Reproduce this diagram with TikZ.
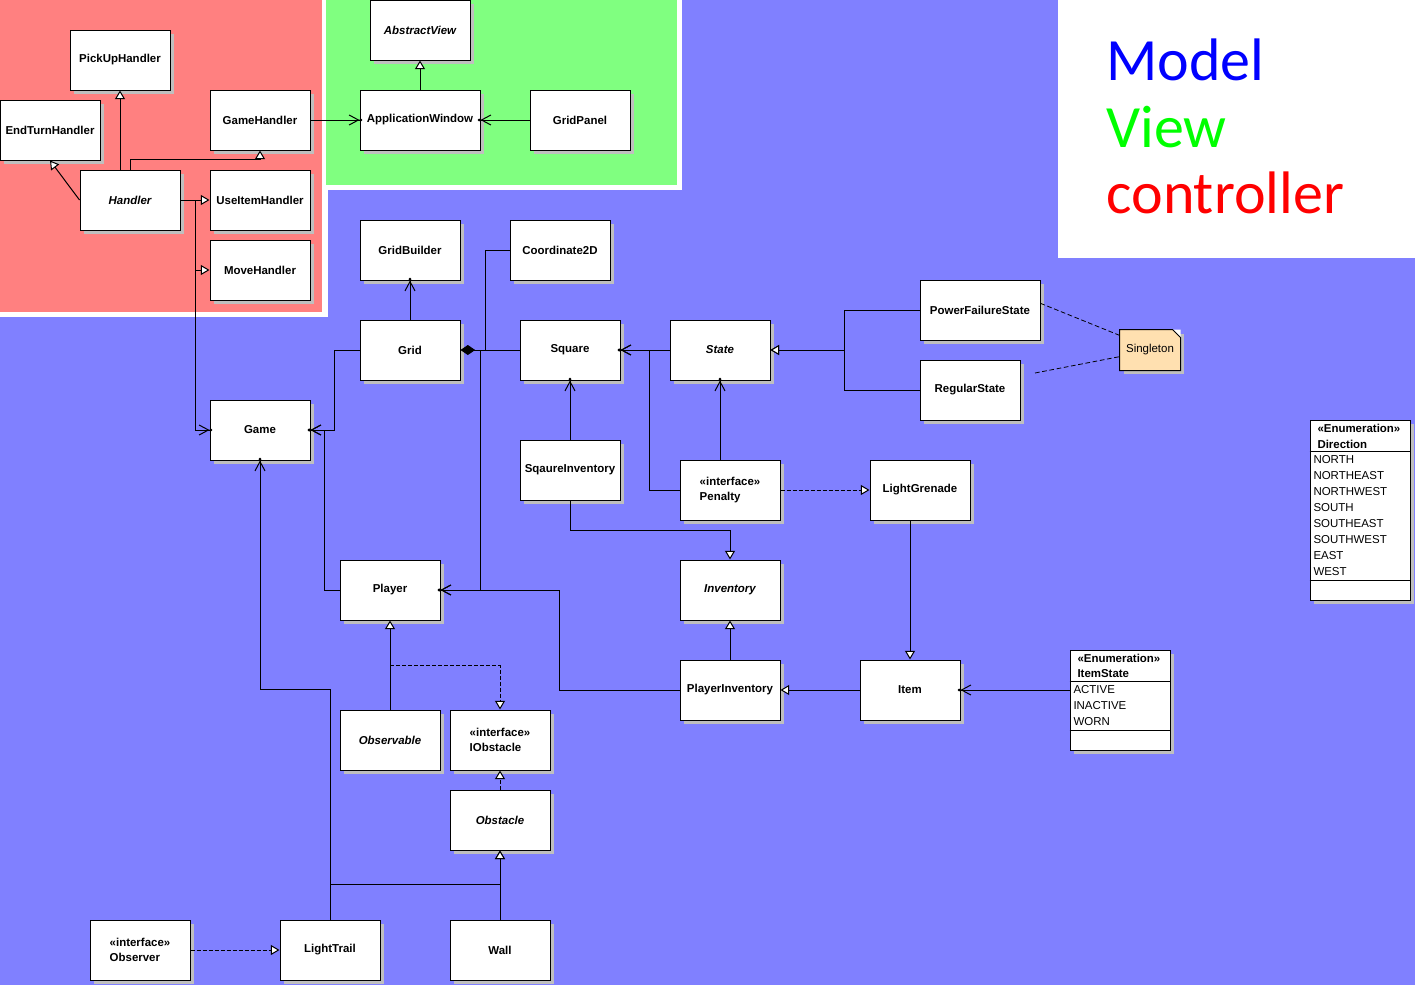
\documentclass[tikz,border=0pt]{standalone}
\usepackage{fontspec}
\setmainfont{Liberation Sans}
\newfontfamily\mvcfont{Carlito}
\usetikzlibrary{arrows.meta,shadows,calc}
\definecolor{modelbg}{HTML}{8080FF}
\definecolor{ctrlbg}{HTML}{FF8080}
\definecolor{viewbg}{HTML}{80FF80}
\definecolor{notebg}{HTML}{FFE0B0}
\newcommand{\classfont}{\fontsize{8.6}{11.5}\selectfont\bfseries}
\newcommand{\enumfont}{\fontsize{8.6}{12}\selectfont}
\tikzset{
	umlclass/.style={draw, fill=white, minimum width=75pt, minimum height=45pt, inner sep=1pt, align=left, font=\classfont,
		drop shadow={shadow xshift=3pt, shadow yshift=-3pt, opacity=1, fill=black!25}},
	abstract/.style={umlclass, font=\classfont\itshape},
	wide/.style={minimum width=90pt},
	enumtext/.style={anchor=west, inner sep=0pt, font=\enumfont},
	enumhead/.style={anchor=west, inner sep=0pt, font=\classfont},
	gen/.style={-{Triangle[open, fill=white, length=6.5pt, width=7.5pt]}},
	real/.style={gen, dash pattern=on 3pt off 1.5pt},
	nav/.style={-{Straight Barb[length=7pt, width=7.5pt] Circle[length=2pt, sep=-2pt]}},
	comp/.style={{Diamond[length=11pt, width=7.5pt]}-},
}
\begin{document}
\begin{tikzpicture}[x=0.75pt, y=-0.75pt, line width=0.75pt]
	\useasboundingbox (0,0) rectangle (1415,985);
	% panels
	\fill[modelbg] (0,0) rectangle (1415,985);
	\fill[white] (0,0) rectangle (328,317);
	\fill[white] (322,0) rectangle (682,190);
	\fill[ctrlbg] (0,0) rectangle (322,312);
	\fill[viewbg] (326,0) rectangle (677,185);
	\fill[white] (1058,0) rectangle (1415,258);
	\node[anchor=base west, inner sep=0pt, font=\mvcfont\fontsize{45}{50}\selectfont, text=blue] (model) at (1106,80) {Model};
	\node[anchor=base west, inner sep=0pt, font=\mvcfont\fontsize{45}{50}\selectfont, text=green] (view) at (1106,147) {View};
	\node[anchor=base west, inner sep=0pt, font=\mvcfont\fontsize{45}{50}\selectfont, text=red] (controller) at (1106,213) {controller};

	% controller
	\node[umlclass] (pickup) at (120,60) {PickUpHandler};
	\node[umlclass] (endturn) at (50,130) {EndTurnHandler};
	\node[umlclass] (gamehandler) at (260,120) {GameHandler};
	\node[abstract] (handler) at (130,200) {Handler};
	\node[umlclass] (useitem) at (260,200) {UseItemHandler};
	\node[umlclass] (move) at (260,270) {MoveHandler};

	% view
	\node[abstract] (abstractview) at (420,30) {AbstractView};
	\node[umlclass, wide] (appwin) at (420,120) {ApplicationWindow};
	\node[umlclass] (gridpanel) at (580,120) {GridPanel};

	% model
	\node[umlclass] (gridbuilder) at (410,250) {GridBuilder};
	\node[umlclass] (coord) at (560,250) {Coordinate2D};
	\node[umlclass] (grid) at (410,350) {Grid};
	\node[umlclass] (square) at (570,350) {Square};
	\node[abstract] (state) at (720,350) {State};
	\node[umlclass, wide] (powerfail) at (980,310) {PowerFailureState};
	\node[umlclass] (regular) at (970,390) {RegularState};
	\node[umlclass] (game) at (260,430) {Game};
	\node[umlclass] (sqinv) at (570,470) {SqaureInventory};
	\node[umlclass] (penalty) at (730,490) {«interface»\\Penalty};
	\node[umlclass] (lightgrenade) at (920,490) {LightGrenade};
	\node[umlclass] (player) at (390,590) {Player};
	\node[abstract] (inventory) at (730,590) {Inventory};
	\node[umlclass] (playerinv) at (730,690) {PlayerInventory};
	\node[umlclass] (item) at (910,690) {Item};
	\node[abstract] (observable) at (390,740) {Observable};
	\node[umlclass] (iobstacle) at (500,740) {«interface»\\IObstacle};
	\node[abstract] (obstacle) at (500,820) {Obstacle};
	\node[umlclass] (observer) at (140,950) {«interface»\\Observer};
	\node[umlclass] (lighttrail) at (330,950) {LightTrail};
	\node[umlclass] (wall) at (500,950) {Wall};

	% note
	\node[fill=notebg, minimum width=45pt, minimum height=30pt, inner sep=1pt, font=\enumfont,
		drop shadow={shadow xshift=3pt, shadow yshift=-3pt, opacity=1, fill=black!25}] (singleton) at (1150,350) {Singleton};
	\fill[white] ([xshift=-6pt]singleton.north east) -- (singleton.north east) -- ([yshift=-6pt]singleton.north east) -- cycle;
	\draw (singleton.south west) -- (singleton.north west) -- ([xshift=-6pt]singleton.north east)
		-- ([yshift=-6pt]singleton.north east) -- (singleton.south east) -- cycle;

	% enumerations
	\node[umlclass, minimum height=75pt] (itemstate) at (1120,700) {};
	\draw ($(itemstate.north west)+(0,32)$) -- ($(itemstate.north east)+(0,32)$);
	\draw ($(itemstate.south west)+(0,-20)$) -- ($(itemstate.south east)+(0,-20)$);
	\node[enumhead] (itemstate-stereo) at (1077,658) {«Enumeration»};
	\node[enumhead] (itemstate-name) at (1077,674) {ItemState};
	\foreach \lit [count=\i from 0] in {ACTIVE,INACTIVE,WORN}
		\node[enumtext] (itemstate-\i) at (1073,{690+16*\i}) {\lit};

	\node[umlclass, minimum height=135pt] (direction) at (1360,510) {};
	\draw ($(direction.north west)+(0,32)$) -- ($(direction.north east)+(0,32)$);
	\draw ($(direction.south west)+(0,-20)$) -- ($(direction.south east)+(0,-20)$);
	\node[enumhead] (direction-stereo) at (1317,428) {«Enumeration»};
	\node[enumhead] (direction-name) at (1317,444) {Direction};
	\foreach \lit [count=\i from 0] in {NORTH,NORTHEAST,NORTHWEST,SOUTH,SOUTHEAST,SOUTHWEST,EAST,WEST}
		\node[enumtext] (direction-\i) at (1313,{460+16*\i}) {\lit};

	% controller connectors
	\draw[gen] (pickup.south |- handler.north) -- (pickup.south);
	\draw[gen] (handler.west) -- (endturn.south);
	\draw[gen] (handler.north) -- ++(0,-10) -| (gamehandler.south);
	\draw[gen] (handler.east) -- (useitem.west);
	\draw[gen] (handler.east) -- ++(15,0) |- (move.west);
	\draw[nav] (handler.east) -- ++(15,0) |- (game.west);
	\draw[nav] (gamehandler.east) -- (appwin.west);

	% view connectors
	\draw[nav] (gridpanel.west) -- (appwin.east);
	\draw[gen] (appwin.north) -- (abstractview.south);

	% model connectors
	\draw[nav] (grid.north) -- (gridbuilder.south);
	\draw[comp] (grid.east) -- (square.west);
	\draw (coord.west) -| ($(grid.east)+(25,0)$);
	\draw[nav] ($(grid.east)+(20,0)$) |- (player.east);
	\draw[nav] (playerinv.west) -- ++(-120,0) |- (player.east);
	\draw[nav] (grid.west) -- ++(-25,0) |- (game.east);
	\draw[nav] (player.west) -- ++(-15,0) |- (game.east);
	\draw[nav] (lighttrail.north) -- ++(0,-230) -| (game.south);
	\draw[gen] (lighttrail.north) -- ++(0,-35) -| (obstacle.south);
	\draw[gen] (wall.north) -- (obstacle.south);
	\draw[real] (obstacle.north) -- (iobstacle.south);
	\draw[gen] (observable.north) -- (player.south);
	\draw[real] ($(player.south)+(0,45)$) -| (iobstacle.north);
	\draw[real] (observer.east) -- (lighttrail.west);
	\draw[nav] (sqinv.north) -- (square.south);
	\draw[gen] (sqinv.south) -- ++(0,30) -| (inventory.north);
	\draw[gen] (playerinv.north) -- (inventory.south);
	\draw[gen] (item.west) -- (playerinv.east);
	\draw[nav] (item.east -| itemstate.west) -- (item.east);
	\draw[gen] (lightgrenade.south -| item.north) -- (item.north);
	\draw[real] (penalty.east) -- (lightgrenade.west);
	\draw[nav] (penalty.north -| state.south) -- (state.south);
	\draw[nav] (penalty.west) -- ++(-30,0) |- (square.east);
	\draw[nav] (state.west) -- (square.east);
	\draw[gen] (powerfail.west) -- ++(-75,0) |- (state.east);
	\draw[gen] (regular.west) -- ++(-75,0) |- (state.east);

	% note links
	\coordinate (regnote) at (1035,373);
	\draw[dash pattern=on 3.5pt off 2pt, line width=0.6pt] ([yshift=5pt]powerfail.east) -- ([yshift=11pt]singleton.west);
	\draw[dash pattern=on 3.5pt off 2pt, line width=0.6pt] (regnote) -- ([yshift=-5pt]singleton.west);
\end{tikzpicture}
\end{document}
